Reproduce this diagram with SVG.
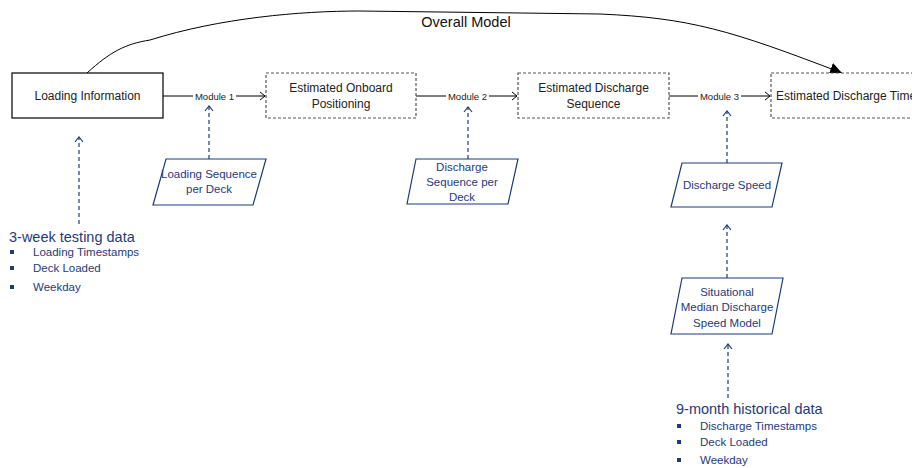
<svg xmlns="http://www.w3.org/2000/svg" width="912" height="468" viewBox="0 0 912 468">
<defs>
<style>
text{font-family:"Liberation Sans",Arial,sans-serif;}
.box{fill:#fff;stroke:#000;stroke-width:1.2;}
.dbox{fill:#fff;stroke:#555;stroke-width:1.2;stroke-dasharray:3 2;}
.para{fill:#fff;stroke:#1f3a78;stroke-width:1.2;}
.bt{font-size:12px;fill:#222;text-anchor:middle;}
.pt{font-size:11.5px;fill:#1f3a78;text-anchor:middle;}
.mod{font-size:9.5px;fill:#222;text-anchor:middle;}
.solid{fill:none;stroke:#000;stroke-width:1;}
.dash{fill:none;stroke:#1f3a78;stroke-width:1.2;stroke-dasharray:4 3;}
.hd{font-size:14.5px;fill:#1f3a78;}
.li{font-size:11.5px;fill:#1f3a78;}
.bul{fill:#1f3a78;}
</style>
<marker id="chev" markerWidth="10" markerHeight="10" refX="8" refY="5" orient="auto" markerUnits="userSpaceOnUse">
<path d="M3,1 L8,5 L3,9" fill="none" stroke="#000" stroke-width="1"/>
</marker>
<marker id="chevb" markerWidth="10" markerHeight="10" refX="8" refY="5" orient="auto" markerUnits="userSpaceOnUse">
<path d="M3,1 L8,5 L3,9" fill="none" stroke="#1f3a78" stroke-width="1.2"/>
</marker>
<marker id="tri" markerWidth="14" markerHeight="12" refX="12" refY="6" orient="auto" markerUnits="userSpaceOnUse">
<path d="M0,0 L12,6 L0,12 Z" fill="#000"/>
</marker>
</defs>

<g id="connectors">
<path class="solid" d="M87,73 C110,52 125,44 150,40 C220,18 300,11 360,11 L600,14 C690,18 730,30 842,73" stroke-width="1.3" marker-end="url(#tri)"/>
<text x="466" y="27" style="font-size:14.5px;fill:#111;text-anchor:middle">Overall Model</text>

<line class="solid" x1="163" y1="96" x2="265" y2="96" marker-end="url(#chev)"/>
<rect x="193" y="90" width="43" height="12" fill="#fff"/>
<text class="mod" x="214.5" y="99.5">Module 1</text>

<line class="solid" x1="416" y1="96" x2="517" y2="96" marker-end="url(#chev)"/>
<rect x="446" y="90" width="43" height="12" fill="#fff"/>
<text class="mod" x="467.5" y="99.5">Module 2</text>

<line class="solid" x1="669" y1="96" x2="770" y2="96" marker-end="url(#chev)"/>
<rect x="698" y="90" width="43" height="12" fill="#fff"/>
<text class="mod" x="719.5" y="99.5">Module 3</text>

<line class="dash" x1="209" y1="159" x2="209" y2="106" marker-end="url(#chevb)"/>
<line class="dash" x1="468" y1="159" x2="468" y2="107" marker-end="url(#chevb)"/>
<line class="dash" x1="727" y1="163" x2="727" y2="111" marker-end="url(#chevb)"/>
<line class="dash" x1="727" y1="278" x2="727" y2="225" marker-end="url(#chevb)"/>
<line class="dash" x1="728" y1="398" x2="728" y2="344" marker-end="url(#chevb)"/>
<line class="dash" x1="79" y1="224" x2="79" y2="137" marker-end="url(#chevb)"/>
</g>

<g id="loading-information">
<rect class="box" x="12" y="73" width="151" height="45"/>
<text class="bt" x="87.5" y="100">Loading Information</text>
</g>

<g id="estimated-onboard-positioning">
<rect class="dbox" x="266" y="73" width="150" height="45"/>
<text class="bt" x="341" y="92">Estimated Onboard</text>
<text class="bt" x="341" y="108">Positioning</text>
</g>

<g id="estimated-discharge-sequence">
<rect class="dbox" x="518" y="73" width="151" height="45"/>
<text class="bt" x="593.5" y="92">Estimated Discharge</text>
<text class="bt" x="593.5" y="108">Sequence</text>
</g>

<g id="estimated-discharge-time">
<rect class="dbox" x="771" y="73" width="152" height="45"/>
<text class="bt" x="776" y="100" style="text-anchor:start">Estimated Discharge Time</text>
</g>

<g id="loading-sequence-per-deck">
<polygon class="para" points="166,159 266,159 253,205 153,205"/>
<text class="pt" x="209" y="178">Loading Sequence</text>
<text class="pt" x="209" y="193">per Deck</text>
</g>

<g id="discharge-sequence-per-deck">
<polygon class="para" points="416,159 518,159 508,204 407,204"/>
<text class="pt" x="462" y="171">Discharge</text>
<text class="pt" x="462" y="186">Sequence per</text>
<text class="pt" x="462" y="201">Deck</text>
</g>

<g id="discharge-speed">
<polygon class="para" points="682,163 782,163 772,207 671,207"/>
<text class="pt" x="727" y="189">Discharge Speed</text>
</g>

<g id="situational-median-discharge-speed-model">
<polygon class="para" points="682,278 783,278 772,334 671,334"/>
<text class="pt" x="727" y="296">Situational</text>
<text class="pt" x="727" y="311">Median Discharge</text>
<text class="pt" x="727" y="327">Speed Model</text>
</g>

<g id="three-week-testing-data">
<text class="hd" x="9" y="242">3-week testing data</text>
<rect class="bul" x="10" y="250" width="4" height="4"/>
<text class="li" x="33" y="256">Loading Timestamps</text>
<rect class="bul" x="10" y="266" width="4" height="4"/>
<text class="li" x="33" y="272">Deck Loaded</text>
<rect class="bul" x="10" y="285" width="4" height="4"/>
<text class="li" x="33" y="291">Weekday</text>
</g>

<g id="nine-month-historical-data">
<text class="hd" x="676" y="414">9-month historical data</text>
<rect class="bul" x="677" y="424" width="4" height="4"/>
<text class="li" x="700" y="430">Discharge Timestamps</text>
<rect class="bul" x="677" y="440" width="4" height="4"/>
<text class="li" x="700" y="446">Deck Loaded</text>
<rect class="bul" x="677" y="458" width="4" height="4"/>
<text class="li" x="700" y="464">Weekday</text>
</g>
</svg>
